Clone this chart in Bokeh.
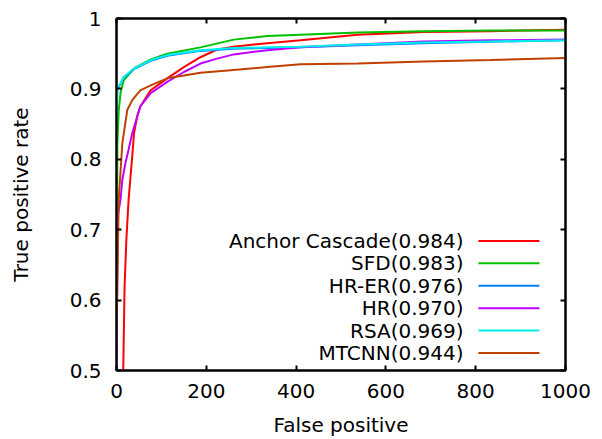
from bokeh.plotting import figure
from bokeh.models import Range1d, FixedTicker, LinearAxis, Label, CustomJSTickFormatter
from bokeh.embed import file_html
from bokeh.resources import INLINE

# ---- data ----
anchor_x = [15, 18, 22, 27, 35, 39, 46, 53, 76, 113, 150, 187, 224, 261, 336, 410, 537, 684, 833, 1000]
anchor_y = [0.5, 0.62, 0.686, 0.743, 0.804, 0.837, 0.861, 0.875, 0.898, 0.915, 0.931, 0.945, 0.956, 0.960, 0.965, 0.969, 0.977, 0.981, 0.982, 0.984]

sfd_x = [0, 2, 5, 9, 11, 16, 39, 76, 113, 187, 261, 336, 410, 537, 684, 833, 1000]
sfd_y = [0.55, 0.823, 0.870, 0.894, 0.900, 0.912, 0.929, 0.942, 0.950, 0.959, 0.970, 0.975, 0.977, 0.980, 0.982, 0.983, 0.983]

hrer_x = [0, 2, 9, 16, 39, 76, 113, 187, 261, 336, 410, 537, 684, 833, 1000]
hrer_y = [0.86, 0.900, 0.907, 0.916, 0.928, 0.940, 0.947, 0.954, 0.957, 0.958, 0.959, 0.962, 0.965, 0.967, 0.969]

hr_x = [0, 3, 9, 13, 20, 27, 35, 53, 76, 113, 150, 187, 224, 261, 336, 410, 537, 684, 833, 1000]
hr_y = [0.5, 0.72, 0.743, 0.771, 0.795, 0.814, 0.837, 0.875, 0.894, 0.910, 0.924, 0.936, 0.943, 0.949, 0.955, 0.959, 0.963, 0.9675, 0.969, 0.970]

rsa_x = [0, 2, 9, 16, 39, 76, 113, 187, 261, 336, 410, 537, 684, 833, 1000]
rsa_y = [0.86, 0.901, 0.908, 0.917, 0.929, 0.941, 0.948, 0.955, 0.958, 0.959, 0.960, 0.963, 0.966, 0.9675, 0.969]

mtcnn_x = [0, 2, 5, 13, 24, 35, 53, 76, 113, 150, 187, 261, 336, 410, 537, 684, 833, 1000]
mtcnn_y = [0.55, 0.63, 0.743, 0.823, 0.870, 0.884, 0.898, 0.905, 0.915, 0.919, 0.923, 0.927, 0.931, 0.935, 0.936, 0.939, 0.941, 0.944]

series_names = ["Anchor Cascade(0.984)", "SFD(0.983)", "HR-ER(0.976)", "HR(0.970)", "RSA(0.969)", "MTCNN(0.944)"]
series_colors = ["#ff0000", "#00c000", "#0080ff", "#c000ff", "#00eeee", "#c04000"]

x_ticks = [0, 200, 400, 600, 800, 1000]
y_ticks = [0.5, 0.6, 0.7, 0.8, 0.9, 1.0]

FONT = "DejaVu Sans"
FS = "20px"

p = figure(width=602, height=439, output_backend="svg", toolbar_location=None,
           x_range=Range1d(0, 1000), y_range=Range1d(0.5, 1.0),
           min_border_left=116, min_border_right=37, min_border_top=18, min_border_bottom=67)
p.background_fill_color = "white"
p.border_fill_color = "white"
p.grid.visible = False
p.outline_line_color = "black"
p.outline_line_width = 2

fmt = CustomJSTickFormatter(code="return String(Math.round(tick*10)/10);")
blank = CustomJSTickFormatter(code="return '';")

def style_axis(ax, show_labels):
    ax.axis_line_color = "black"
    ax.axis_line_width = 2
    ax.major_tick_in = 5
    ax.major_tick_out = 0
    ax.major_tick_line_width = 2
    ax.minor_tick_line_color = None
    ax.major_label_text_font = FONT
    ax.axis_label_text_font = FONT
    ax.axis_label_text_font_style = "normal"
    ax.axis_label_text_font_size = FS
    ax.major_label_text_font_size = FS
    ax.major_label_text_color = "black"
    ax.axis_label_text_color = "black"
    if not show_labels:
        ax.formatter = blank
        ax.major_label_standoff = 0

p.xaxis.ticker = FixedTicker(ticks=x_ticks)
p.yaxis.ticker = FixedTicker(ticks=y_ticks)
p.yaxis.formatter = fmt
for ax in p.xaxis + p.yaxis:
    style_axis(ax, True)
p.xaxis.axis_label = "False positive"
p.yaxis.axis_label = "True positive rate"
p.xaxis.major_label_standoff = 13
p.xaxis.major_label_text_line_height = 1.0
p.xaxis.axis_label_standoff = 12
p.xaxis.axis_label_text_line_height = 0.8
p.yaxis.major_label_standoff = 15
p.yaxis.axis_label_standoff = 34

top = LinearAxis(ticker=FixedTicker(ticks=x_ticks))
right = LinearAxis(ticker=FixedTicker(ticks=y_ticks))
style_axis(top, False)
style_axis(right, False)
p.add_layout(top, "above")
p.add_layout(right, "right")

xs = [anchor_x, sfd_x, hrer_x, hr_x, rsa_x, mtcnn_x]
ys = [anchor_y, sfd_y, hrer_y, hr_y, rsa_y, mtcnn_y]
for x, y, c in zip(xs, ys, series_colors):
    p.line(x, y, line_color=c, line_width=2)

# ---- key (layout in data space) ----
key_text_x = 773
key_line_x0 = 806
key_line_x1 = 942
key_top = 0.684
key_step = 0.0318
for i, (name, c) in enumerate(zip(series_names, series_colors)):
    yy = key_top - i * key_step
    p.add_layout(Label(x=key_text_x, y=yy, text=name, text_align="right", text_baseline="middle",
                       text_font=FONT, text_font_size=FS, text_color="black"))
    p.segment(x0=[key_line_x0], y0=[yy], x1=[key_line_x1], y1=[yy], line_color=c, line_width=2)

open("out.html", "w").write(file_html(p, INLINE))
